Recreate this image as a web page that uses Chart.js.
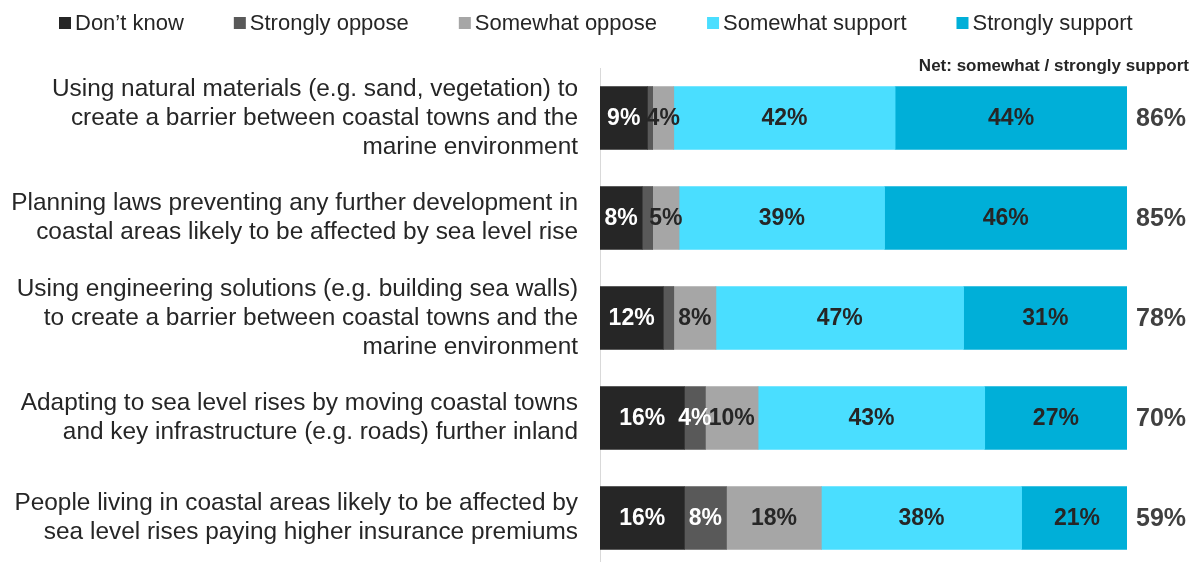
<!DOCTYPE html>
<html>
<head>
<meta charset="utf-8">
<title>Support for coastal adaptation measures</title>
<script src="https://cdn.jsdelivr.net/npm/chart.js@4"></script>
<style>
    html, body { margin: 0; padding: 0; background: #fff; overflow: hidden; }
    /* a few px taller than the window so the last row sits a full step below the 4th */
    #chart-wrap { width: 1197px; height: 568px; position: relative; }
</style>
</head>
<body>
<div id="chart-wrap"><canvas id="supportChart"></canvas></div>
<script>
const categories = [
    ["Using natural materials (e.g. sand, vegetation) to", "create a barrier between coastal towns and the", "marine environment"],
    ["Planning laws preventing any further development in", "coastal areas likely to be affected by sea level rise"],
    ["Using engineering solutions (e.g. building sea walls)", "to create a barrier between coastal towns and the", "marine environment"],
    ["Adapting to sea level rises by moving coastal towns", "and key infrastructure (e.g. roads) further inland"],
    ["People living in coastal areas likely to be affected by", "sea level rises paying higher insurance premiums"]
];

const seriesNames = ["Don\u2019t know", "Strongly oppose", "Somewhat oppose", "Somewhat support", "Strongly support"];
const dontKnow = [9, 8, 12, 16, 16];
const stronglyOppose = [1, 2, 2, 4, 8];
const somewhatOppose = [4, 5, 8, 10, 18];
const somewhatSupport = [42, 39, 47, 43, 38];
const stronglySupport = [44, 46, 31, 27, 21];

const seriesColours = ['#262626', '#595959', '#a6a6a6', '#4adeff', '#00afd8'];
const labelColours = ['#ffffff', '#ffffff', '#262626', '#262626', '#262626'];

const netHeader = 'Net: somewhat / strongly support';
const FONT = "'Liberation Sans', Arial, sans-serif";

// legend row across the top, squares + names
const topLegend = {
    id: 'topLegend',
    afterDraw(chart) {
        const ctx = chart.ctx;
        ctx.save();
        ctx.font = `22px ${FONT}`;
        ctx.textBaseline = 'middle';
        ctx.textAlign = 'left';
        let x = 59;
        const y = 23;
        chart.data.datasets.forEach(ds => {
            ctx.fillStyle = ds.backgroundColor;
            ctx.fillRect(x, y - 6, 12, 12);
            ctx.fillStyle = '#262626';
            ctx.fillText(ds.label, x + 16, y + 1);
            x += 16 + ctx.measureText(ds.label).width + 50;
        });
        ctx.restore();
    }
};

// percentage inside each segment (small slivers left blank)
const segmentLabels = {
    id: 'segmentLabels',
    afterDatasetsDraw(chart) {
        const ctx = chart.ctx;
        ctx.save();
        ctx.font = `bold 23px ${FONT}`;
        ctx.textAlign = 'center';
        ctx.textBaseline = 'middle';
        chart.data.datasets.forEach((ds, di) => {
            const meta = chart.getDatasetMeta(di);
            meta.data.forEach((bar, i) => {
                const v = ds.data[i];
                if (v < 3) return;
                const cx = (bar.x + bar.base) / 2;
                ctx.fillStyle = labelColours[di];
                ctx.fillText(v + '%', cx, bar.y + 1);
            });
        });
        ctx.restore();
    }
};

// net support totals to the right of each bar
const netLabels = {
    id: 'netLabels',
    afterDraw(chart) {
        const ctx = chart.ctx;
        const area = chart.chartArea;
        const meta = chart.getDatasetMeta(0);
        ctx.save();
        ctx.fillStyle = '#262626';
        ctx.font = `bold 17px ${FONT}`;
        ctx.textAlign = 'right';
        ctx.textBaseline = 'alphabetic';
        ctx.fillText(netHeader, 1189, 71);

        ctx.fillStyle = '#404040';
        ctx.font = `bold 25px ${FONT}`;
        ctx.textAlign = 'left';
        ctx.textBaseline = 'middle';
        meta.data.forEach((bar, i) => {
            const net = somewhatSupport[i] + stronglySupport[i];
            ctx.fillText(net + '%', area.right + 9, bar.y + 1);
        });
        ctx.restore();
    }
};

const seriesValues = [dontKnow, stronglyOppose, somewhatOppose, somewhatSupport, stronglySupport];

new Chart(document.getElementById('supportChart'), {
    type: 'bar',
    data: {
        labels: categories,
        datasets: seriesValues.map((values, i) => ({
            label: seriesNames[i],
            data: values,
            backgroundColor: seriesColours[i],
            borderWidth: 0,
            barThickness: 63
        }))
    },
    options: {
        indexAxis: 'y',
        responsive: true,
        maintainAspectRatio: false,
        animation: false,
        layout: {
            padding: { top: 68, right: 70, bottom: 0, left: 0 }
        },
        plugins: {
            legend: { display: false },
            tooltip: { enabled: false }
        },
        scales: {
            x: {
                stacked: true,
                min: 0,
                max: 100,
                display: false
            },
            y: {
                stacked: true,
                grid: { display: false },
                border: { color: '#d9d9d9', width: 1 },
                ticks: {
                    color: '#262626',
                    padding: 14,
                    font: { family: FONT, size: 24.4, lineHeight: 1.19 }
                },
                afterFit(scale) {
                    scale.width = 600;
                    // tall multi-line labels shouldn't push the plot area in
                    scale.paddingTop = 0;
                    scale.paddingBottom = 0;
                }
            }
        }
    },
    plugins: [topLegend, segmentLabels, netLabels]
});
</script>
</body>
</html>
